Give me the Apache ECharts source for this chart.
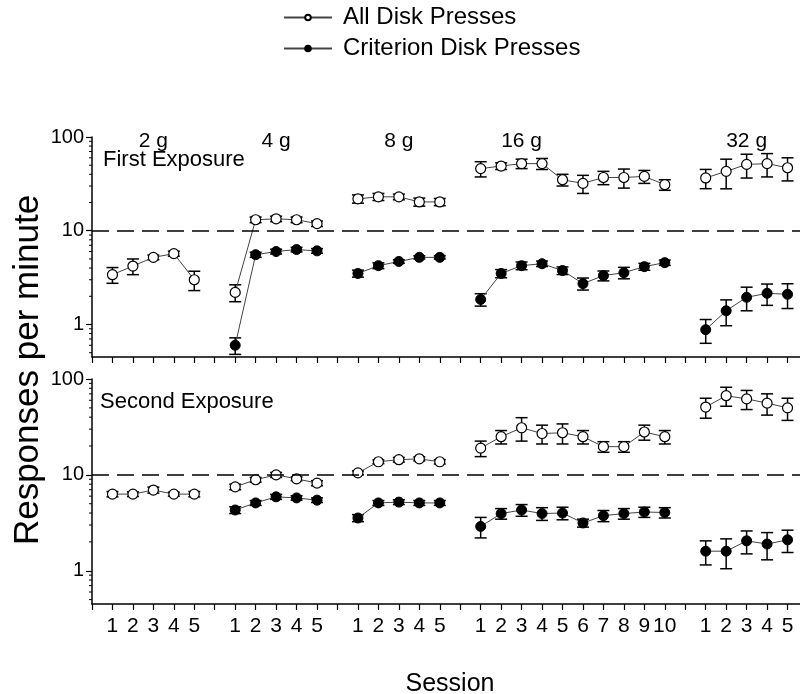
<!DOCTYPE html>
<html>
<head>
<meta charset="utf-8">
<script src="https://cdn.jsdelivr.net/npm/echarts@6/dist/echarts.min.js"></script>
<style>
  html, body { margin: 0; padding: 0; background: #fff; }
  #chart { width: 800px; height: 694px; }
</style>
</head>
<body>
<div id="chart"></div>
<script>
const groups = ['2 g', '4 g', '8 g', '16 g', '32 g']
const sessionCounts = [5, 5, 5, 10, 5]
const yTickLabels = ['1', '10', '100']
const minorTicks = [0.5, 0.6, 0.7, 0.8, 0.9, 2, 3, 4, 5, 6, 7, 8, 9, 20, 30, 40, 50, 60, 70, 80, 90]

// first exposure
const firstAll = [[3.4, 4.2, 5.2, 5.7, 3.0], [2.2, 13.1, 13.4, 13.1, 11.9], [21.9, 23, 23, 20.3, 20.3],
  [46, 49, 52, 52, 35, 32, 37, 37, 38, 31], [36.6, 43, 51, 52, 47]]
const firstAllErr = [[0.65, 0.8, 0.3, 0.35, 0.7], [0.45, 0.9, 0.9, 0.9, 0.8], [2.2, 2, 1.6, 2, 1.8],
  [8.5, 4, 6, 7, 5, 7, 6, 8.5, 6, 4], [8.5, 15, 14.5, 14.5, 13]]
const firstCrit = [[], [0.6, 5.55, 6.0, 6.3, 6.1], [3.5, 4.24, 4.7, 5.2, 5.2],
  [1.85, 3.5, 4.24, 4.45, 3.76, 2.73, 3.32, 3.57, 4.14, 4.57], [0.88, 1.4, 1.95, 2.15, 2.1]]
const firstCritErr = [[], [0.12, 0.35, 0.35, 0.35, 0.35], [0.3, 0.3, 0.2, 0.2, 0.2],
  [0.28, 0.35, 0.4, 0.3, 0.35, 0.4, 0.4, 0.5, 0.35, 0.3], [0.25, 0.43, 0.55, 0.55, 0.62]]

// second exposure
const secondAll = [[6.3, 6.3, 6.95, 6.3, 6.3], [7.5, 8.9, 10, 9.1, 8.2], [10.5, 13.7, 14.4, 14.7, 13.7],
  [19, 25, 31, 27, 27.5, 25, 19.7, 19.7, 28, 25], [51, 67, 62, 56, 50]]
const secondAllErr = [[0.4, 0.35, 0.5, 0.3, 0.4], [0.5, 0.5, 0.6, 0.4, 0.5], [0.5, 0.6, 0.8, 0.7, 0.7],
  [3.5, 4, 8.5, 6, 6.5, 4, 2.5, 2.5, 5, 4], [12, 15, 14, 14, 13]]
const secondCrit = [[], [4.3, 5.1, 5.9, 5.75, 5.45], [3.55, 5.1, 5.2, 5.1, 5.1],
  [2.9, 3.95, 4.3, 3.95, 4.0, 3.15, 3.75, 3.95, 4.1, 4.05], [1.6, 1.6, 2.05, 1.9, 2.1]]
const secondCritErr = [[], [0.35, 0.3, 0.35, 0.3, 0.3], [0.3, 0.3, 0.3, 0.3, 0.3],
  [0.7, 0.5, 0.6, 0.6, 0.6, 0.3, 0.5, 0.5, 0.5, 0.5], [0.45, 0.55, 0.55, 0.6, 0.55]]

const FONT = 'Liberation Sans, Arial, sans-serif'
const X_MIN = -1
const X_MAX = 34

// x position of each group's first session, one empty slot between groups
const starts = []
let acc = 0
sessionCounts.forEach(n => { starts.push(acc); acc += n + 1 })

const sessionLabel = {}
const groupLabel = {}
groups.forEach((g, gi) => {
  for (let i = 0; i < sessionCounts[gi]; i++) sessionLabel[starts[gi] + i] = String(i + 1)
  groupLabel[starts[gi] + 2] = g
})

const lineData = vals => {
  const out = []
  vals.forEach((g, gi) => {
    g.forEach((v, i) => out.push([starts[gi] + i, v]))
    out.push([starts[gi] + sessionCounts[gi], '-'])
  })
  return out
}
const errData = (vals, errs) => {
  const out = []
  vals.forEach((g, gi) => g.forEach((v, i) => out.push([starts[gi] + i, v, errs[gi][i]])))
  return out
}

const renderErr = (params, api) => {
  const x = api.value(0), v = api.value(1), e = api.value(2)
  const hi = api.coord([x, v + e])
  const lo = api.coord([x, v - e])
  const w = 6
  const st = { stroke: '#000', lineWidth: 1.5 }
  return {
    type: 'group',
    children: [
      { type: 'line', shape: { x1: hi[0], y1: hi[1], x2: lo[0], y2: lo[1] }, style: st },
      { type: 'line', shape: { x1: hi[0] - w, y1: hi[1], x2: hi[0] + w, y2: hi[1] }, style: st },
      { type: 'line', shape: { x1: lo[0] - w, y1: lo[1], x2: lo[0] + w, y2: lo[1] }, style: st }
    ]
  }
}
// log minor ticks on the y axis
const renderMinor = (params, api) => {
  const p = api.coord([X_MIN, api.value(1)])
  return { type: 'line', shape: { x1: p[0] - 3, y1: p[1], x2: p[0], y2: p[1] }, style: { stroke: '#000', lineWidth: 1 } }
}

const openStyle = { color: '#fff', borderColor: '#000', borderWidth: 1.2 }
const filledStyle = { color: '#000', borderColor: '#000', borderWidth: 1 }

const xAxisBase = gi => ({
  type: 'value', gridIndex: gi, min: X_MIN, max: X_MAX, interval: 1,
  axisLine: { onZero: false, lineStyle: { color: '#000', width: 1.5 } },
  axisTick: { length: 6, lineStyle: { color: '#000', width: 1.2 } },
  splitLine: { show: false }
})
const yAxisBase = gi => ({
  type: 'log', logBase: 10, gridIndex: gi, min: 0.45, max: 100,
  axisLine: { show: true, onZero: false, lineStyle: { color: '#000', width: 1.5 } },
  axisTick: { show: true, length: 6, lineStyle: { color: '#000', width: 1.2 } },
  axisLabel: { showMinLabel: false, color: '#000', fontSize: 20, fontFamily: FONT, margin: 8,
    formatter: v => yTickLabels.includes(String(v)) ? String(v) : '' },
  splitLine: { show: false }
})

const dashLine = {
  silent: true, symbol: 'none', label: { show: false },
  lineStyle: { color: '#000', type: [17, 8], width: 1.5 },
  data: [{ yAxis: 10 }]
}

const panelSeries = (gi, all, allErr, crit, critErr) => [
  { type: 'custom', xAxisIndex: gi, yAxisIndex: gi, data: errData(all, allErr), renderItem: renderErr, z: 2, silent: true },
  { type: 'custom', xAxisIndex: gi, yAxisIndex: gi, data: errData(crit, critErr), renderItem: renderErr, z: 2, silent: true },
  { type: 'custom', xAxisIndex: gi, yAxisIndex: gi, data: minorTicks.map(v => [X_MIN, v]), renderItem: renderMinor, z: 2, silent: true },
  {
    name: 'All Disk Presses', type: 'line', xAxisIndex: gi, yAxisIndex: gi, data: lineData(all),
    symbol: 'circle', symbolSize: 10, itemStyle: openStyle, z: 3,
    lineStyle: { color: '#444', width: 1 }, markLine: dashLine
  },
  {
    name: 'Criterion Disk Presses', type: 'line', xAxisIndex: gi, yAxisIndex: gi, data: lineData(crit),
    symbol: 'circle', symbolSize: 10, itemStyle: filledStyle, z: 3,
    lineStyle: { color: '#444', width: 1 }
  }
]

const chart = echarts.init(document.getElementById('chart'), null, { renderer: 'canvas' })
chart.setOption({
  animation: false,
  backgroundColor: '#fff',
  textStyle: { fontFamily: FONT },
  title: [
    { text: 'First Exposure', left: 98, top: 144, textStyle: { fontSize: 22, fontWeight: 'normal', color: '#000', fontFamily: FONT } },
    { text: 'Second Exposure', left: 95, top: 386, textStyle: { fontSize: 22, fontWeight: 'normal', color: '#000', fontFamily: FONT } }
  ],
  legend: {
    orient: 'vertical', left: 283, top: 4, padding: 0, itemWidth: 48, itemHeight: 7, itemGap: 4,
    data: ['All Disk Presses', 'Criterion Disk Presses'],
    textStyle: { fontSize: 24, color: '#000', fontFamily: FONT, lineHeight: 27, padding: [0, 0, 0, 6] }
  },
  grid: [
    { left: 92, top: 137, width: 716, height: 220, outerBoundsMode: 'none' },
    { left: 92, top: 379, width: 716, height: 225, outerBoundsMode: 'none' }
  ],
  xAxis: [
    Object.assign(xAxisBase(0), { axisLabel: { show: false } }),
    Object.assign(xAxisBase(1), {
      name: 'Session', nameLocation: 'middle', nameGap: 68,
      nameTextStyle: { fontSize: 25, color: '#000', fontFamily: FONT },
      axisLabel: { color: '#000', fontSize: 21, fontFamily: FONT, margin: 12, formatter: v => sessionLabel[v] || '' }
    }),
    {
      type: 'value', gridIndex: 0, position: 'top', min: X_MIN, max: X_MAX, interval: 1,
      axisLine: { show: false, onZero: false }, axisTick: { show: false }, splitLine: { show: false },
      axisLabel: { color: '#000', fontSize: 21, fontFamily: FONT, margin: -4, verticalAlign: 'middle',
        formatter: v => groupLabel[v] || '' }
    }
  ],
  yAxis: [yAxisBase(0), yAxisBase(1)],
  graphic: [{
    type: 'text', x: 28, y: 370, rotation: Math.PI / 2,
    style: { text: 'Responses per minute', font: '35px ' + FONT, fill: '#000', align: 'center', verticalAlign: 'middle' }
  }],
  series: [
    ...panelSeries(0, firstAll, firstAllErr, firstCrit, firstCritErr),
    ...panelSeries(1, secondAll, secondAllErr, secondCrit, secondCritErr)
  ]
})
</script>
</body>
</html>
